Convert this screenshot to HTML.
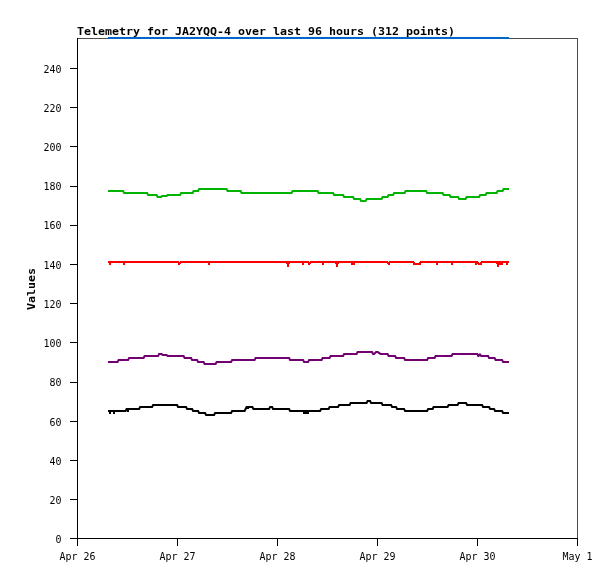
<!DOCTYPE html>
<html lang="en"><head><meta charset="utf-8"><title>Telemetry for JA2YQQ-4</title>
<style>html,body{margin:0;padding:0;background:#fff}svg{display:block;will-change:transform}.s{font-family:"DejaVu Sans Mono","Liberation Mono",monospace;font-size:11px;fill:#000}.b{font-family:"DejaVu Sans Mono","Liberation Mono",monospace;font-size:11px;font-weight:bold;fill:#000}</style></head><body>
<svg width="615" height="579" viewBox="0 0 615 579">
<rect width="615" height="579" fill="#fff"/>
<g shape-rendering="crispEdges">
<rect x="77" y="38" width="501" height="1" fill="#4d4d4d"/>
<rect x="577" y="38" width="1" height="501" fill="#4d4d4d"/>
<rect x="77" y="38" width="1" height="501" fill="#000"/>
<rect x="77" y="538" width="501" height="1" fill="#000"/>
<rect x="70" y="538" width="8" height="1" fill="#000"/>
<rect x="70" y="499" width="8" height="1" fill="#000"/>
<rect x="70" y="460" width="8" height="1" fill="#000"/>
<rect x="70" y="421" width="8" height="1" fill="#000"/>
<rect x="70" y="382" width="8" height="1" fill="#000"/>
<rect x="70" y="342" width="8" height="1" fill="#000"/>
<rect x="70" y="303" width="8" height="1" fill="#000"/>
<rect x="70" y="264" width="8" height="1" fill="#000"/>
<rect x="70" y="225" width="8" height="1" fill="#000"/>
<rect x="70" y="186" width="8" height="1" fill="#000"/>
<rect x="70" y="146" width="8" height="1" fill="#000"/>
<rect x="70" y="107" width="8" height="1" fill="#000"/>
<rect x="70" y="68" width="8" height="1" fill="#000"/>
<rect x="77" y="538" width="1" height="8" fill="#000"/>
<rect x="177" y="538" width="1" height="8" fill="#000"/>
<rect x="277" y="538" width="1" height="8" fill="#000"/>
<rect x="377" y="538" width="1" height="8" fill="#000"/>
<rect x="477" y="538" width="1" height="8" fill="#000"/>
<rect x="577" y="538" width="1" height="8" fill="#000"/>
</g>
<text class="s" x="55.5" y="543" textLength="6" lengthAdjust="spacingAndGlyphs">0</text>
<text class="s" x="49.5" y="504" textLength="12" lengthAdjust="spacingAndGlyphs">20</text>
<text class="s" x="49.5" y="465" textLength="12" lengthAdjust="spacingAndGlyphs">40</text>
<text class="s" x="49.5" y="426" textLength="12" lengthAdjust="spacingAndGlyphs">60</text>
<text class="s" x="49.5" y="386" textLength="12" lengthAdjust="spacingAndGlyphs">80</text>
<text class="s" x="43.5" y="347" textLength="18" lengthAdjust="spacingAndGlyphs">100</text>
<text class="s" x="43.5" y="308" textLength="18" lengthAdjust="spacingAndGlyphs">120</text>
<text class="s" x="43.5" y="269" textLength="18" lengthAdjust="spacingAndGlyphs">140</text>
<text class="s" x="43.5" y="229" textLength="18" lengthAdjust="spacingAndGlyphs">160</text>
<text class="s" x="43.5" y="190" textLength="18" lengthAdjust="spacingAndGlyphs">180</text>
<text class="s" x="43.5" y="151" textLength="18" lengthAdjust="spacingAndGlyphs">200</text>
<text class="s" x="43.5" y="112" textLength="18" lengthAdjust="spacingAndGlyphs">220</text>
<text class="s" x="43.5" y="73" textLength="18" lengthAdjust="spacingAndGlyphs">240</text>
<text class="s" x="59.5" y="560" textLength="36" lengthAdjust="spacingAndGlyphs">Apr 26</text>
<text class="s" x="159.5" y="560" textLength="36" lengthAdjust="spacingAndGlyphs">Apr 27</text>
<text class="s" x="259.5" y="560" textLength="36" lengthAdjust="spacingAndGlyphs">Apr 28</text>
<text class="s" x="359.5" y="560" textLength="36" lengthAdjust="spacingAndGlyphs">Apr 29</text>
<text class="s" x="459.5" y="560" textLength="36" lengthAdjust="spacingAndGlyphs">Apr 30</text>
<text class="s" x="562.5" y="560" textLength="30" lengthAdjust="spacingAndGlyphs">May 1</text>
<text class="b" x="77" y="35" textLength="378" lengthAdjust="spacingAndGlyphs">Telemetry for JA2YQQ-4 over last 96 hours (312 points)</text>
<text class="b" transform="translate(35 310) rotate(-90)" x="0" y="0" textLength="42" lengthAdjust="spacingAndGlyphs">Values</text>
<g shape-rendering="crispEdges">
<rect x="108" y="37" width="401" height="2" fill="#0066cc"/>
</g>
<g>
<polyline points="108,191 123.1,191 124.1,193 147.1,193 148.1,195 156.6,195 157.6,197 161.1,197 162.1,196 166.6,196 167.6,195 180.1,195 181.1,193 192.6,193 193.6,191 198.1,191 199.1,189 226.6,189 227.6,191 240.6,191 241.6,193 291.6,193 292.6,191 317.6,191 318.6,193 333.1,193 334.1,195 343.1,195 344.1,197 353.1,197 354.1,199 360.1,199 361.1,201 365.6,201 366.6,199 381.6,199 382.6,197 387.6,197 388.6,195 393.1,195 394.1,193 404.6,193 405.6,191 426.1,191 427.1,193 442.6,193 443.6,195 449.6,195 450.6,197 458.1,197 459.1,199 465.6,199 466.6,197 479.1,197 480.1,195 485.6,195 486.6,193 496.6,193 497.6,191 502.6,191 503.6,189 509,189" fill="none" stroke="#00b300" stroke-width="2" stroke-linejoin="miter" stroke-linecap="butt"/>
<g shape-rendering="crispEdges" fill="#ff0000">
<rect x="108" y="261" width="401" height="2"/>
<rect x="109" y="263" width="2" height="2"/>
<rect x="123" y="263" width="2" height="2"/>
<rect x="178" y="263" width="2" height="2"/>
<rect x="208" y="263" width="2" height="2"/>
<rect x="287" y="263" width="2" height="4"/>
<rect x="302" y="263" width="2" height="2"/>
<rect x="308" y="263" width="2" height="2"/>
<rect x="322" y="263" width="2" height="2"/>
<rect x="336" y="263" width="2" height="4"/>
<rect x="351" y="263" width="4" height="2"/>
<rect x="388" y="263" width="2" height="2"/>
<rect x="413" y="263" width="8" height="2"/>
<rect x="436" y="263" width="2" height="2"/>
<rect x="451" y="263" width="2" height="2"/>
<rect x="475" y="263" width="7" height="2"/>
<rect x="497" y="263" width="6" height="2"/>
<rect x="497" y="263" width="2" height="4"/>
<rect x="506" y="263" width="2" height="2"/>
<rect x="286" y="263" width="4" height="1"/>
<rect x="335" y="263" width="4" height="1"/>
<rect x="496" y="263" width="1" height="1"/>
<rect x="180" y="263" width="1" height="1"/><rect x="310" y="263" width="1" height="1"/><rect x="387" y="263" width="1" height="1"/>
</g>
<g shape-rendering="crispEdges" fill="#fff">
<rect x="179" y="261" width="1" height="1"/>
<rect x="309" y="261" width="1" height="1"/>
<rect x="388" y="261" width="1" height="1"/>
<rect x="415" y="261" width="4" height="2"/><rect x="414" y="261" width="6" height="1"/>
<rect x="477" y="264" width="1" height="1"/><rect x="478" y="261" width="3" height="1"/><rect x="479" y="262" width="1" height="1"/>
</g>
<polyline points="108,362 117.6,362 118.6,360 128.1,360 129.1,358 143.6,358 144.6,356 158.1,356 159.1,354 161.6,354 162.6,355 166.6,355 167.6,356 183.6,356 184.6,358 191.1,358 192.1,360 197.1,360 198.1,362 203.6,362 204.6,364 215.6,364 216.6,362 231.1,362 232.1,360 254.6,360 255.6,358 289.1,358 290.1,360 303.1,360 304.1,362 308.1,362 309.1,360 321.6,360 322.6,358 329.6,358 330.6,356 343.1,356 344.1,354 356.6,354 357.6,352 372.1,352 373.1,354 374.1,354 375.1,353 375.1,353 376.1,352 377.9,352 378.9,353 379.4,353 380.4,354 387.6,354 388.6,356 395.1,356 396.1,358 404.1,358 405.1,360 427.1,360 428.1,358 434.6,358 435.6,356 451.6,356 452.6,354 477.3,354 478.3,356 478.6,356 479.6,354.6 480.2,354.6 481.2,356 488.1,356 489.1,358 494.6,358 495.6,360 502.1,360 503.1,362 509,362" fill="none" stroke="#730073" stroke-width="2" stroke-linejoin="miter" stroke-linecap="butt"/>
<polyline points="108,411 125.6,411 126.6,409 139.1,409 140.1,407 152.1,407 153.1,405 177.1,405 178.1,407 186.1,407 187.1,409 192.1,409 193.1,411 198.1,411 199.1,413 205.1,413 206.1,415 214.1,415 215.1,413 231.1,413 232.1,411 244.6,411 245.6,409 245.6,409 246.6,407 252.4,407 253.4,409 269.1,409 270.1,407 272.1,407 273.1,409 289.1,409 290.1,411 320.1,411 321.1,409 328.6,409 329.6,407 338.1,407 339.1,405 349.6,405 350.6,403 366.6,403 367.6,401 370.1,401 371.1,403 381.6,403 382.6,405 391.1,405 392.1,407 396.1,407 397.1,409 404.1,409 405.1,411 427.1,411 428.1,409 432.6,409 433.6,407 447.6,407 448.6,405 457.6,405 458.6,403 466.1,403 467.1,405 482.1,405 483.1,407 489.1,407 490.1,409 494.1,409 495.1,411 502.1,411 503.1,413 509,413" fill="none" stroke="#000000" stroke-width="2" stroke-linejoin="miter" stroke-linecap="butt"/>
<g shape-rendering="crispEdges" fill="#000">
<rect x="109" y="412" width="2" height="2"/>
<rect x="113" y="412" width="2" height="2"/>
<rect x="303" y="412" width="6" height="2"/>
<rect x="127" y="410" width="2" height="2"/>
<rect x="246" y="408" width="3" height="1"/>
</g>
</g>
</svg></body></html>
